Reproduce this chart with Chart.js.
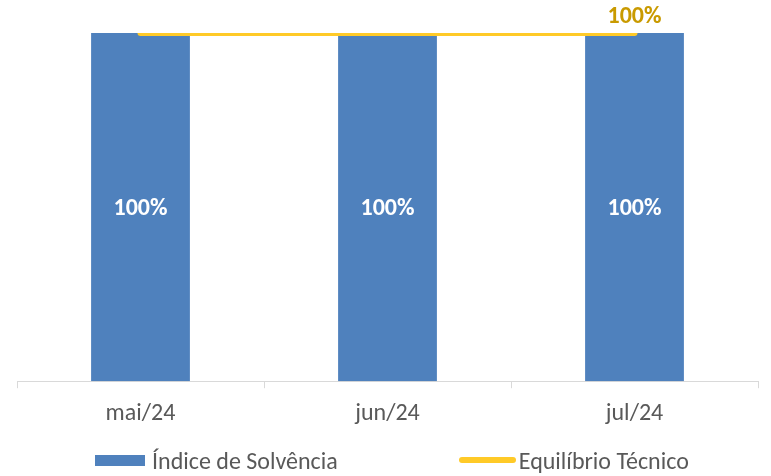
<!DOCTYPE html>
<html>
<head>
<meta charset="utf-8">
<script src="https://cdn.jsdelivr.net/npm/chart.js@4"></script>
<style>
  html, body { margin: 0; padding: 0; background: #fff; }
  #wrap { position: relative; width: 771px; height: 476px; }
  #legenda {
    position: absolute; left: 95px; top: 445px; height: 30px;
    display: flex; align-items: center;
    font-family: Carlito, 'Open Sans', sans-serif; font-size: 24px; color: #595959;
    white-space: nowrap;
  }
  #legenda .item { display: flex; align-items: center; }
  #legenda .item + .item { margin-left: 121px; }
  #legenda .caixa { width: 50px; height: 11px; margin-right: 7px; }
  #legenda .linha { width: 57px; height: 6px; border-radius: 3px; margin-right: 3px; }
</style>
</head>
<body>
<div id="wrap">
  <canvas id="chart" width="771" height="476"></canvas>
  <div id="legenda"></div>
</div>
<script>
// Données
const meses = ['mai/24', 'jun/24', 'jul/24'];
const indiceSolvencia = [1.00, 1.00, 1.00];
const equilibrioTecnico = [1.00, 1.00, 1.00];

const AZUL = '#4F81BD';
const AMARELO = '#FFCA28';
const DOURADO = '#C99A00';
const FONTE = "Carlito, 'Open Sans', sans-serif";

const pct = v => Math.round(v * 100) + '%';

// Étiquettes des valeurs (barres : au centre, ligne : dernier point)
const rotulos = {
  id: 'rotulos',
  afterDatasetsDraw(chart) {
    const ctx = chart.ctx;
    ctx.save();
    ctx.textAlign = 'center';
    ctx.textBaseline = 'middle';
    ctx.font = "bold 24px " + FONTE;
    chart.getDatasetMeta(0).data.forEach((bar, i) => {
      ctx.fillStyle = '#fff';
      ctx.fillText(pct(indiceSolvencia[i]), bar.x, (bar.y + bar.base) / 2 + 2);
    });
    const pts = chart.getDatasetMeta(1).data;
    const last = pts[pts.length - 1];
    ctx.fillStyle = DOURADO;
    ctx.fillText(pct(equilibrioTecnico[equilibrioTecnico.length - 1]), last.x, last.y - 16);
    ctx.restore();
  }
};

const chart = new Chart(document.getElementById('chart'), {
  data: {
    labels: meses,
    datasets: [
      {
        type: 'bar',
        label: 'Índice de Solvência',
        data: indiceSolvencia,
        backgroundColor: AZUL,
        categoryPercentage: 0.8,
        barPercentage: 0.5,
        order: 2
      },
      {
        type: 'line',
        label: 'Equilíbrio Técnico',
        data: equilibrioTecnico,
        borderColor: AMARELO,
        backgroundColor: AMARELO,
        borderWidth: 6,
        borderCapStyle: 'round',
        pointRadius: 0,
        order: 1
      }
    ]
  },
  options: {
    responsive: false,
    animation: false,
    layout: { padding: { top: 33, left: 17, right: 13, bottom: 37 } },
    plugins: {
      tooltip: { enabled: false },
      legend: { display: false }
    },
    scales: {
      x: {
        grid: { display: true, drawOnChartArea: false, tickLength: 7, color: '#D9D9D9' },
        border: { color: '#D9D9D9' },
        ticks: { color: '#595959', font: { family: FONTE, size: 24 }, padding: 11 }
      },
      y: { display: false, min: 0, max: 1 }
    }
  },
  plugins: [rotulos]
});

// Légende HTML construite à partir des jeux de données
const legenda = document.getElementById('legenda');
chart.data.datasets.forEach(ds => {
  const item = document.createElement('div');
  item.className = 'item';
  const marca = document.createElement('span');
  marca.className = ds.type === 'line' ? 'linha' : 'caixa';
  marca.style.background = ds.type === 'line' ? ds.borderColor : ds.backgroundColor;
  const texto = document.createElement('span');
  texto.textContent = ds.label;
  item.appendChild(marca);
  item.appendChild(texto);
  legenda.appendChild(item);
});
</script>
</body>
</html>
